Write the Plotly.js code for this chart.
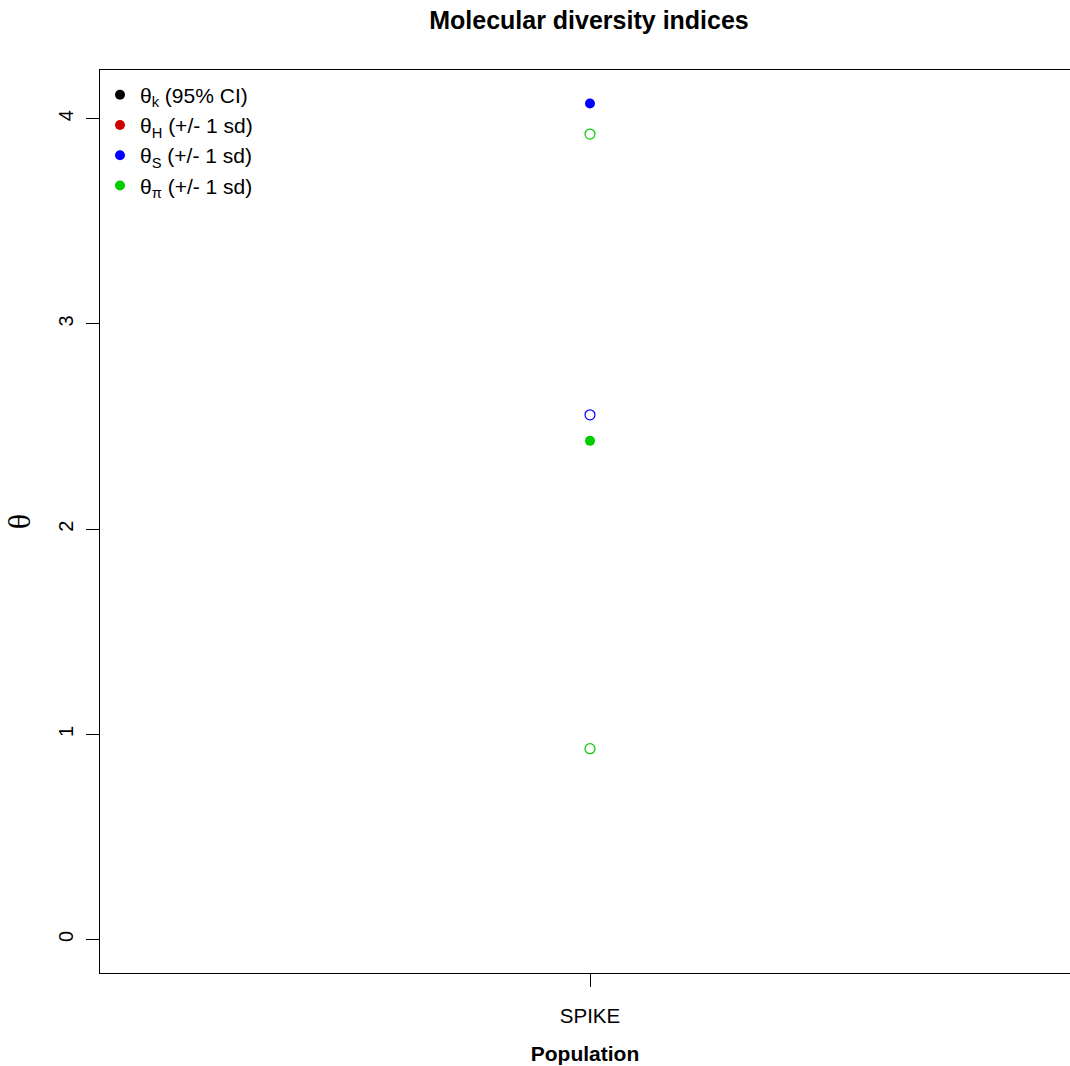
<!DOCTYPE html>
<html>
<head>
<meta charset="utf-8">
<script src="https://cdn.plot.ly/plotly-3.0.1.min.js"></script>
<style>html,body{margin:0;padding:0;background:#fff;}#chart{width:1070px;height:1066px;}</style>
</head>
<body>
<div id="chart"></div>
<script>
const categories = ['SPIKE'];
const catPos = [1];
const thetaS = [4.074];
const thetaSLower = [2.557];
const thetaPi = [2.430];
const thetaPiLower = [0.930];
const thetaPiUpper = [3.925];
const legendLabels = ['θ<sub>k</sub> (95% CI)', 'θ<sub>H</sub> (+/- 1 sd)', 'θ<sub>S</sub> (+/- 1 sd)', 'θ<sub>π</sub> (+/- 1 sd)'];
const colK = '#000000', colH = '#CD0000', colS = '#0000FF', colPi = '#00CD00';

const filled = (c) => ({symbol: 'circle', size: 10, color: c, line: {width: 0}});
const open = (c) => ({symbol: 'circle-open', size: 10, color: c, line: {width: 1.2, color: c}});

const traces = [
  {type: 'scatter', mode: 'markers', x: [null], y: [null], name: legendLabels[0], marker: filled(colK), showlegend: true},
  {type: 'scatter', mode: 'markers', x: [null], y: [null], name: legendLabels[1], marker: filled(colH), showlegend: true},
  {type: 'scatter', mode: 'markers', x: catPos, y: thetaS, name: legendLabels[2], marker: filled(colS), legendgroup: 'S'},
  {type: 'scatter', mode: 'markers', x: catPos, y: thetaSLower, name: 'θS lower', marker: open(colS), showlegend: false, legendgroup: 'S'},
  {type: 'scatter', mode: 'markers', x: catPos, y: thetaPi, name: legendLabels[3], marker: filled(colPi), legendgroup: 'P'},
  {type: 'scatter', mode: 'markers', x: catPos, y: thetaPiLower, name: 'θπ lower', marker: open(colPi), showlegend: false, legendgroup: 'P'},
  {type: 'scatter', mode: 'markers', x: catPos, y: thetaPiUpper, name: 'θπ upper', marker: open(colPi), showlegend: false, legendgroup: 'P'}
];

const layout = {
  width: 1070, height: 1066,
  margin: {l: 100, r: 0, t: 70, b: 93},
  paper_bgcolor: '#fff', plot_bgcolor: '#fff',
  font: {family: 'Liberation Sans, Arial, sans-serif', color: '#000'},
  title: {text: '<b>Molecular diversity indices</b>', font: {size: 25, family: 'Liberation Sans, Arial, sans-serif', color: '#000'}, x: 589/1070, xref: 'container', xanchor: 'center', y: 1 - 20/1066, yref: 'container', yanchor: 'middle'},
  xaxis: {
    range: [0.5, 0.5 + 970/980], tickmode: 'array', tickvals: catPos, ticktext: categories,
    showgrid: false, zeroline: false, showline: true, linecolor: '#000', linewidth: 1, mirror: true,
    ticks: 'outside', ticklen: 13, tickcolor: '#000', tickwidth: 1, ticklabelstandoff: 11,
    tickfont: {size: 20.5}, title: {text: '<b>Population</b>', font: {size: 21}, standoff: 20}
  },
  yaxis: {
    range: [-0.163, 4.237], tickmode: 'array', tickvals: [0, 1, 2, 3, 4], ticktext: ['0', '1', '2', '3', '4'],
    showgrid: false, zeroline: false, showline: true, linecolor: '#000', linewidth: 1, mirror: true,
    ticks: 'outside', ticklen: 13, tickcolor: '#000', tickwidth: 1, tickangle: -90, ticklabelstandoff: 5,
    tickfont: {size: 20}, title: {text: 'θ', font: {size: 32, family: 'Liberation Serif, Times New Roman, serif'}, standoff: 14}
  },
  legend: {x: 0, y: 0.995, xanchor: 'left', yanchor: 'top', bgcolor: 'rgba(0,0,0,0)', borderwidth: 0, font: {size: 21}, itemwidth: 30, tracegroupgap: 0},
  showlegend: true
};

Plotly.newPlot('chart', traces, layout, {displayModeBar: false, staticPlot: true});
</script>
</body>
</html>
